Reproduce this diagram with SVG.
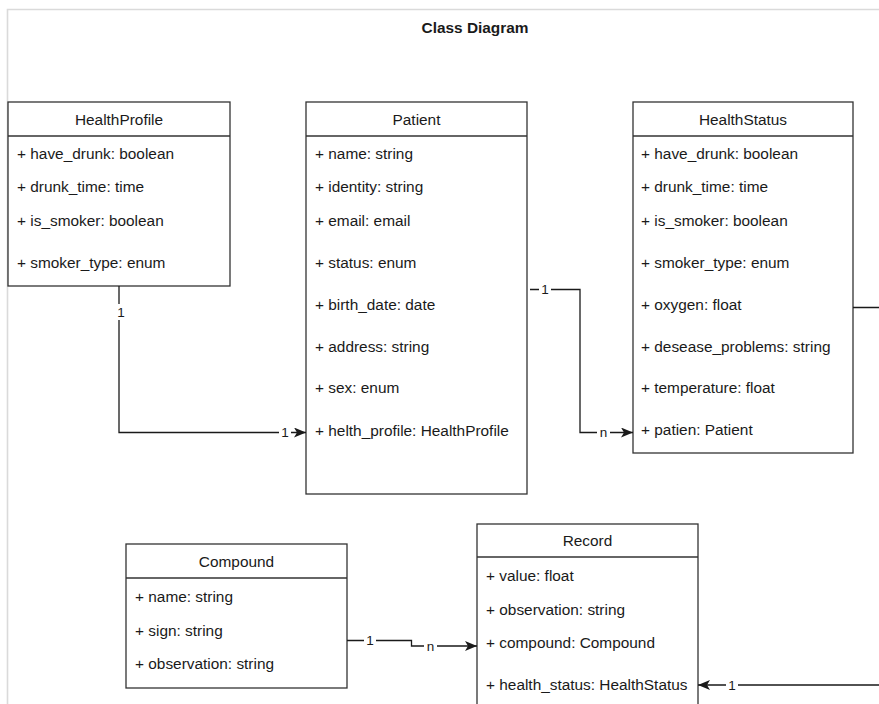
<svg xmlns="http://www.w3.org/2000/svg" width="879" height="704" viewBox="0 0 879 704">
  <style>
    .frame { fill: none; stroke: #dadada; stroke-width: 1.6; }
    .box { fill: #ffffff; stroke: #333333; stroke-width: 1.3; }
    .sep { stroke: #333333; stroke-width: 1.3; }
    .title { font-family: "Liberation Sans", Arial, sans-serif; font-size: 15.4px; font-weight: bold; fill: #1a1a1a; text-anchor: middle; dominant-baseline: central; }
    .cls { font-family: "Liberation Sans", Arial, sans-serif; font-size: 15.4px; fill: #1a1a1a; text-anchor: middle; dominant-baseline: central; }
    .attr { font-family: "Liberation Sans", Arial, sans-serif; font-size: 15.4px; fill: #1a1a1a; dominant-baseline: central; }
    .edge { fill: none; stroke: #1a1a1a; stroke-width: 1.3; }
    .lblbg { fill: #ffffff; }
    .lbl { font-family: "Liberation Sans", Arial, sans-serif; font-size: 13.5px; fill: #1a1a1a; text-anchor: middle; dominant-baseline: central; }
  </style>
  <defs>
    <marker id="arrow" viewBox="0 0 12 10" refX="12" refY="5" markerWidth="12" markerHeight="10" markerUnits="userSpaceOnUse" orient="auto">
      <path d="M0,0 L12,5 L0,10 L3,5 Z" fill="#1a1a1a"/>
    </marker>
  </defs>

  <rect width="879" height="704" fill="#ffffff"/>

  <!-- diagram frame -->
  <path class="frame" d="M7.5,720 V9.5 H890"/>
  <text class="title" x="475" y="27">Class Diagram</text>

  <!-- HealthProfile -->
  <g id="HealthProfile">
    <rect class="box" x="8" y="102" width="222" height="184"/>
    <line class="sep" x1="8" y1="136" x2="230" y2="136"/>
    <text class="cls" x="119" y="119">HealthProfile</text>
    <text class="attr" x="17" y="153">+ have_drunk: boolean</text>
    <text class="attr" x="17" y="186">+ drunk_time: time</text>
    <text class="attr" x="17" y="220">+ is_smoker: boolean</text>
    <text class="attr" x="17" y="262">+ smoker_type: enum</text>
  </g>

  <!-- Patient -->
  <g id="Patient">
    <rect class="box" x="306" y="102" width="221" height="392"/>
    <line class="sep" x1="306" y1="136" x2="527" y2="136"/>
    <text class="cls" x="416.5" y="119">Patient</text>
    <text class="attr" x="315" y="153">+ name: string</text>
    <text class="attr" x="315" y="186">+ identity: string</text>
    <text class="attr" x="315" y="220">+ email: email</text>
    <text class="attr" x="315" y="262">+ status: enum</text>
    <text class="attr" x="315" y="304">+ birth_date: date</text>
    <text class="attr" x="315" y="346">+ address: string</text>
    <text class="attr" x="315" y="387">+ sex: enum</text>
    <text class="attr" x="315" y="430">+ helth_profile: HealthProfile</text>
  </g>

  <!-- HealthStatus -->
  <g id="HealthStatus">
    <rect class="box" x="633" y="102" width="220" height="351"/>
    <line class="sep" x1="633" y1="136" x2="853" y2="136"/>
    <text class="cls" x="743" y="119">HealthStatus</text>
    <text class="attr" x="641" y="153">+ have_drunk: boolean</text>
    <text class="attr" x="641" y="186">+ drunk_time: time</text>
    <text class="attr" x="641" y="220">+ is_smoker: boolean</text>
    <text class="attr" x="641" y="262">+ smoker_type: enum</text>
    <text class="attr" x="641" y="304">+ oxygen: float</text>
    <text class="attr" x="641" y="346">+ desease_problems: string</text>
    <text class="attr" x="641" y="387">+ temperature: float</text>
    <text class="attr" x="641" y="429">+ patien: Patient</text>
  </g>

  <!-- Compound -->
  <g id="Compound">
    <rect class="box" x="126" y="544" width="221" height="144"/>
    <line class="sep" x1="126" y1="578" x2="347" y2="578"/>
    <text class="cls" x="236.5" y="561">Compound</text>
    <text class="attr" x="135" y="596">+ name: string</text>
    <text class="attr" x="135" y="630">+ sign: string</text>
    <text class="attr" x="135" y="663">+ observation: string</text>
  </g>

  <!-- Record -->
  <g id="Record">
    <rect class="box" x="477" y="524" width="221" height="200"/>
    <line class="sep" x1="477" y1="557" x2="698" y2="557"/>
    <text class="cls" x="587.5" y="540.5">Record</text>
    <text class="attr" x="486" y="575">+ value: float</text>
    <text class="attr" x="486" y="609">+ observation: string</text>
    <text class="attr" x="486" y="642">+ compound: Compound</text>
    <text class="attr" x="486" y="684">+ health_status: HealthStatus</text>
  </g>

  <!-- associations -->
  <g id="connectors">
    <!-- HealthProfile 1 : 1 Patient.helth_profile -->
    <path class="edge" d="M119,286 V432.5 H306" marker-end="url(#arrow)"/>
    <rect class="lblbg" x="115" y="304" width="12" height="16"/>
    <text class="lbl" x="121" y="312">1</text>
    <rect class="lblbg" x="279" y="425" width="12" height="15"/>
    <text class="lbl" x="285" y="432.5">1</text>

    <!-- Patient 1 : n HealthStatus.patien -->
    <path class="edge" d="M530,289.5 H580 V432.5 H633" marker-end="url(#arrow)"/>
    <rect class="lblbg" x="539" y="282" width="12" height="15"/>
    <text class="lbl" x="545" y="289.5">1</text>
    <rect class="lblbg" x="597" y="425" width="13" height="15"/>
    <text class="lbl" x="603.5" y="432.5">n</text>

    <!-- Compound 1 : n Record.compound -->
    <path class="edge" d="M347,640.5 H411.5 V646 H477" marker-end="url(#arrow)"/>
    <rect class="lblbg" x="364" y="633" width="12" height="15"/>
    <text class="lbl" x="370" y="640.5">1</text>
    <rect class="lblbg" x="424" y="639" width="13" height="15"/>
    <text class="lbl" x="430.5" y="646">n</text>

    <!-- HealthStatus 1 : Record.health_status -->
    <path class="edge" d="M853,307.5 H930 V685 H698" marker-end="url(#arrow)"/>
    <rect class="lblbg" x="726" y="678" width="12" height="15"/>
    <text class="lbl" x="732" y="685">1</text>
  </g>
</svg>
